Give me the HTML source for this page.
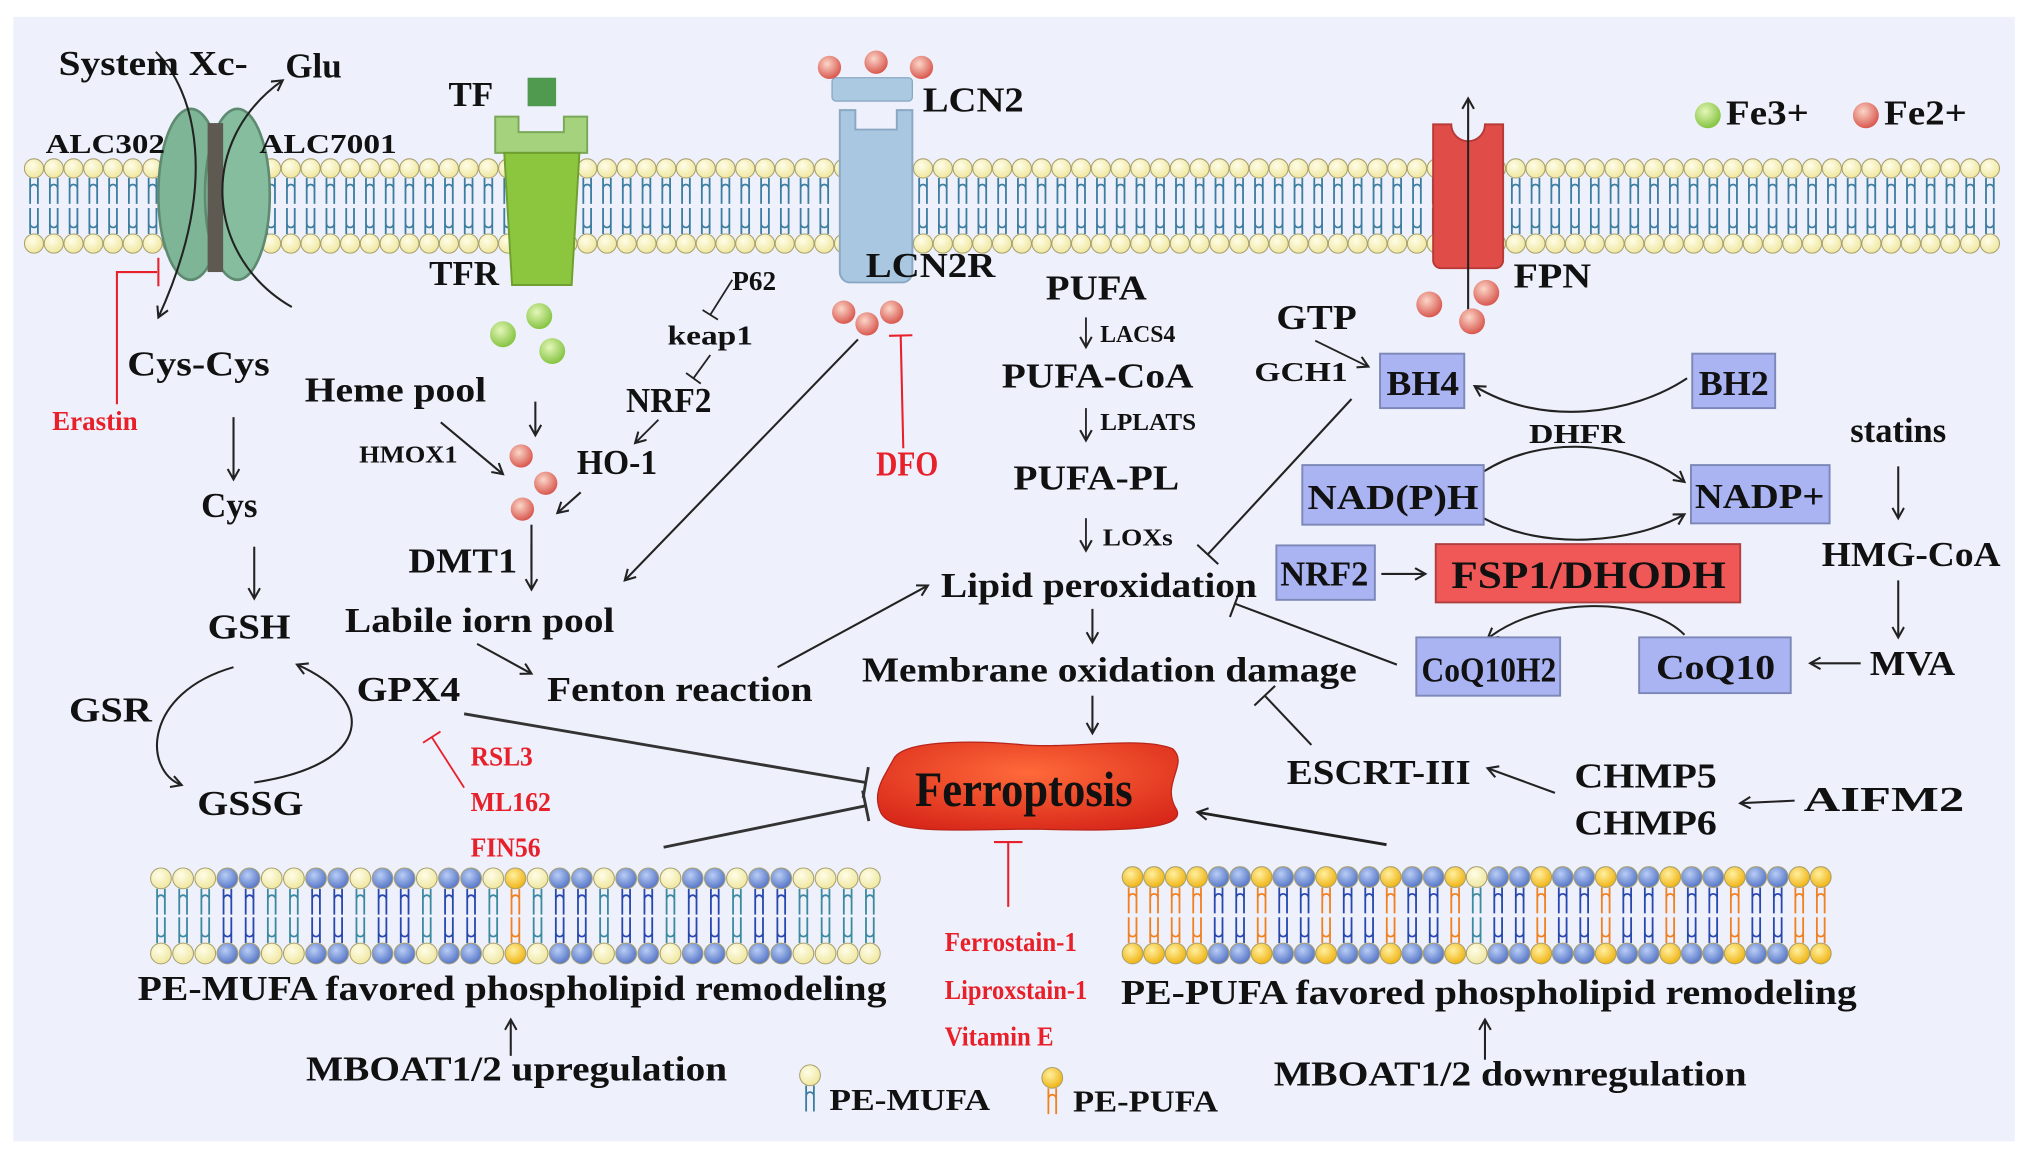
<!DOCTYPE html>
<html><head><meta charset="utf-8"><style>
html,body{margin:0;padding:0;background:#fff;overflow:hidden;width:2032px;height:1153px}
svg{display:block}
text{font-family:"Liberation Serif",serif;font-weight:bold;fill:#111}
.s{font-size:21px}.m{font-size:27px}.r{fill:#e8202a}
</style></head><body>
<svg id="sv" width="2032" height="1153" viewBox="0 0 1568 890" xmlns="http://www.w3.org/2000/svg">
<defs>
<marker id="ah" markerWidth="12" markerHeight="12" refX="9" refY="5" orient="auto" markerUnits="userSpaceOnUse"><path d="M1,0.5 L9,5 L1,9.5" fill="none" stroke="#222" stroke-width="1.6"/></marker>
<radialGradient id="rb" cx="40%" cy="35%" r="65%"><stop offset="0" stop-color="#fbd6c8"/><stop offset="1" stop-color="#d9584f"/></radialGradient>
<radialGradient id="gb" cx="40%" cy="35%" r="65%"><stop offset="0" stop-color="#e4f6b8"/><stop offset="1" stop-color="#86c443"/></radialGradient>
<radialGradient id="yb" cx="40%" cy="35%" r="65%"><stop offset="0" stop-color="#fffde8"/><stop offset="1" stop-color="#efe7a0"/></radialGradient>
<radialGradient id="bb" cx="40%" cy="35%" r="65%"><stop offset="0" stop-color="#b9cdf5"/><stop offset="1" stop-color="#5676c8"/></radialGradient>
<radialGradient id="ob" cx="40%" cy="35%" r="65%"><stop offset="0" stop-color="#fff0a0"/><stop offset="1" stop-color="#f0b414"/></radialGradient>
<radialGradient id="fer" cx="50%" cy="35%" r="70%"><stop offset="0" stop-color="#ff6a3a"/><stop offset="1" stop-color="#d8281a"/></radialGradient>
</defs>
<rect x="0" y="0" width="1568" height="890" fill="#fff"/>
<rect x="10" y="13" width="1545" height="868" fill="#eef1fb"/>
<g id="mem"></g>
<g id="lines" stroke="#222" stroke-width="1.6" fill="none"></g>

<ellipse cx="147" cy="150" rx="25" ry="66" fill="#7fb597" stroke="#5d8a70" stroke-width="2"/>
<ellipse cx="183" cy="150" rx="25" ry="66" fill="#86bd9f" stroke="#5d8a70" stroke-width="2"/>
<rect x="160" y="95" width="12" height="115" fill="#5e5a52"/>
<path d="M120,40 C150,70 170,140 122,245" fill="none" stroke="#222" stroke-width="1.6" marker-end="url(#ah)"/>
<path d="M225,237 C160,200 150,110 218,62" fill="none" stroke="#222" stroke-width="1.6" marker-end="url(#ah)"/>
<rect x="407" y="60" width="22" height="22" fill="#4f9a4f"/>
<path d="M382,90 h18 v12 h35 v-12 h18 v28 h-71 z" fill="#a5d27c" stroke="#7aa858" stroke-width="1.5"/>
<path d="M389,118 h58 l-6,102 h-46 z" fill="#8cc63e" stroke="#6f9f30" stroke-width="1.5"/>
<rect x="642" y="60" width="62" height="18" rx="3" fill="#acc9e2" stroke="#8aa8c4"/>
<path d="M648,85 h12 v15 h32 v-15 h12 v125 a8,8 0 0 1 -8,8 h-40 a8,8 0 0 1 -8,-8 z" fill="#a9c7e0" stroke="#8aa8c4" stroke-width="1.5"/>
<path d="M1106,96 h14 a12,12 0 0 0 26,0 h14 v105 a6,6 0 0 1 -6,6 h-42 a6,6 0 0 1 -6,-6 z" fill="#e04d48" stroke="#b83a36" stroke-width="1.5"/>
<line x1="1133" y1="252" x2="1133" y2="76" stroke="#222" stroke-width="1.6" marker-end="url(#ah)"/>

<g id="balls"></g>

<path d="M690,585 C700,570 760,572 790,575 C830,578 880,568 905,578 C918,590 895,605 908,625 C915,640 870,642 800,640 C740,640 690,645 680,628 C672,612 682,600 690,585 z" fill="url(#fer)" stroke="#b8241a" stroke-width="1"/>
<text x="706" y="622" style="font-size:38px" textLength="168" lengthAdjust="spacingAndGlyphs">Ferroptosis</text>

<g fill="#aab4f2" stroke="#7d88b8" stroke-width="1.5">
<rect x="1065" y="273" width="65" height="42"/>
<rect x="1306" y="273" width="64" height="42"/>
<rect x="1005" y="359" width="140" height="46"/>
<rect x="1305" y="359" width="107" height="45"/>
<rect x="985" y="421" width="76" height="42"/>
<rect x="1093" y="492" width="111" height="45"/>
<rect x="1265" y="492" width="117" height="43"/>
</g>
<rect x="1108" y="420" width="235" height="45" fill="#f05858" stroke="#b04040" stroke-width="1.5"/>

<text class="m" x="45" y="58" textLength="146" lengthAdjust="spacingAndGlyphs">System Xc-</text>
<text class="m" x="220" y="60">Glu</text>
<text class="s" x="35" y="118" textLength="92" lengthAdjust="spacingAndGlyphs">ALC302</text>
<text class="s" x="200" y="118" textLength="106" lengthAdjust="spacingAndGlyphs">ALC7001</text>
<text class="m" x="346" y="82">TF</text>
<text class="m" x="331" y="220">TFR</text>
<text class="m" x="712" y="86" textLength="78" lengthAdjust="spacingAndGlyphs">LCN2</text>
<text class="m" x="668" y="214" textLength="100" lengthAdjust="spacingAndGlyphs">LCN2R</text>
<text class="m" x="1168" y="222" textLength="60" lengthAdjust="spacingAndGlyphs">FPN</text>
<text class="s" x="565" y="224">P62</text>
<text class="s" x="515" y="266" textLength="66" lengthAdjust="spacingAndGlyphs">keap1</text>
<text class="m" x="483" y="318" textLength="66" lengthAdjust="spacingAndGlyphs">NRF2</text>
<text class="m" x="445" y="366" textLength="62" lengthAdjust="spacingAndGlyphs">HO-1</text>
<text class="s" x="277" y="357" style="font-size:19px" textLength="76" lengthAdjust="spacingAndGlyphs">HMOX1</text>
<text class="m" x="235" y="310" textLength="140" lengthAdjust="spacingAndGlyphs">Heme pool</text>
<text class="m" x="315" y="442" textLength="84" lengthAdjust="spacingAndGlyphs">DMT1</text>
<text class="m" x="266" y="488" textLength="208" lengthAdjust="spacingAndGlyphs">Labile iorn pool</text>
<text class="m" x="422" y="541" textLength="205" lengthAdjust="spacingAndGlyphs">Fenton reaction</text>
<text class="m" x="98" y="290" textLength="110" lengthAdjust="spacingAndGlyphs">Cys-Cys</text>
<text class="s r" x="40" y="332" textLength="66" lengthAdjust="spacingAndGlyphs">Erastin</text>
<text class="m" x="155" y="399">Cys</text>
<text class="m" x="160" y="493" textLength="64" lengthAdjust="spacingAndGlyphs">GSH</text>
<text class="m" x="53" y="557" textLength="64" lengthAdjust="spacingAndGlyphs">GSR</text>
<text class="m" x="275" y="541" textLength="80" lengthAdjust="spacingAndGlyphs">GPX4</text>
<text class="m" x="152" y="629" textLength="82" lengthAdjust="spacingAndGlyphs">GSSG</text>
<text class="s r" x="363" y="591" textLength="48" lengthAdjust="spacingAndGlyphs">RSL3</text>
<text class="s r" x="363" y="626" textLength="62" lengthAdjust="spacingAndGlyphs">ML162</text>
<text class="s r" x="363" y="661" textLength="54" lengthAdjust="spacingAndGlyphs">FIN56</text>
<text class="m r" x="676" y="367" textLength="48" lengthAdjust="spacingAndGlyphs">DFO</text>
<text class="m" x="807" y="231" textLength="78" lengthAdjust="spacingAndGlyphs">PUFA</text>
<text class="s" x="849" y="264" style="font-size:19px" textLength="58" lengthAdjust="spacingAndGlyphs">LACS4</text>
<text class="m" x="773" y="299" textLength="148" lengthAdjust="spacingAndGlyphs">PUFA-CoA</text>
<text class="s" x="849" y="332" style="font-size:19px" textLength="74" lengthAdjust="spacingAndGlyphs">LPLATS</text>
<text class="m" x="782" y="378" textLength="128" lengthAdjust="spacingAndGlyphs">PUFA-PL</text>
<text class="s" x="851" y="421" style="font-size:19px" textLength="54" lengthAdjust="spacingAndGlyphs">LOXs</text>
<text class="m" x="726" y="461" textLength="244" lengthAdjust="spacingAndGlyphs">Lipid peroxidation</text>
<text class="m" x="665" y="526" textLength="382" lengthAdjust="spacingAndGlyphs">Membrane oxidation damage</text>
<text class="m" x="985" y="254" textLength="62" lengthAdjust="spacingAndGlyphs">GTP</text>
<text class="s" x="968" y="294" textLength="72" lengthAdjust="spacingAndGlyphs">GCH1</text>
<text class="m" x="1070" y="305" textLength="56" lengthAdjust="spacingAndGlyphs">BH4</text>
<text class="m" x="1311" y="305" textLength="54" lengthAdjust="spacingAndGlyphs">BH2</text>
<text class="s" x="1180" y="342" textLength="74" lengthAdjust="spacingAndGlyphs">DHFR</text>
<text class="m" x="1009" y="393" textLength="132" lengthAdjust="spacingAndGlyphs">NAD(P)H</text>
<text class="m" x="1308" y="392" textLength="100" lengthAdjust="spacingAndGlyphs">NADP+</text>
<text class="m" x="1428" y="341" textLength="74" lengthAdjust="spacingAndGlyphs">statins</text>
<text class="m" x="1406" y="437" textLength="138" lengthAdjust="spacingAndGlyphs">HMG-CoA</text>
<text class="m" x="1443" y="521" textLength="66" lengthAdjust="spacingAndGlyphs">MVA</text>
<text class="m" x="988" y="452" textLength="68" lengthAdjust="spacingAndGlyphs">NRF2</text>
<text class="m" x="1120" y="454" style="font-size:30px" textLength="212" lengthAdjust="spacingAndGlyphs">FSP1/DHODH</text>
<text class="m" x="1097" y="526" textLength="104" lengthAdjust="spacingAndGlyphs">CoQ10H2</text>
<text class="m" x="1278" y="524" textLength="92" lengthAdjust="spacingAndGlyphs">CoQ10</text>
<text class="m" x="993" y="605" textLength="142" lengthAdjust="spacingAndGlyphs">ESCRT-III</text>
<text class="m" x="1215" y="608" textLength="110" lengthAdjust="spacingAndGlyphs">CHMP5</text>
<text class="m" x="1215" y="644" textLength="110" lengthAdjust="spacingAndGlyphs">CHMP6</text>
<text class="m" x="1392" y="626" textLength="124" lengthAdjust="spacingAndGlyphs">AIFM2</text>
<text class="m" x="106" y="772" textLength="578" lengthAdjust="spacingAndGlyphs">PE-MUFA favored phospholipid remodeling</text>
<text class="m" x="865" y="775" textLength="568" lengthAdjust="spacingAndGlyphs">PE-PUFA favored phospholipid remodeling</text>
<text class="m" x="236" y="834" textLength="325" lengthAdjust="spacingAndGlyphs">MBOAT1/2 upregulation</text>
<text class="m" x="983" y="838" textLength="365" lengthAdjust="spacingAndGlyphs">MBOAT1/2 downregulation</text>
<text class="s r" x="729" y="734" textLength="102" lengthAdjust="spacingAndGlyphs">Ferrostain-1</text>
<text class="s r" x="729" y="771" textLength="110" lengthAdjust="spacingAndGlyphs">Liproxstain-1</text>
<text class="s r" x="729" y="807" textLength="84" lengthAdjust="spacingAndGlyphs">Vitamin E</text>
<text class="s" x="640" y="857" style="font-size:24px" textLength="124" lengthAdjust="spacingAndGlyphs">PE-MUFA</text>
<text class="s" x="828" y="858" style="font-size:24px" textLength="112" lengthAdjust="spacingAndGlyphs">PE-PUFA</text>
<text class="m" x="1332" y="96" textLength="64" lengthAdjust="spacingAndGlyphs">Fe3+</text>
<text class="m" x="1454" y="96" textLength="64" lengthAdjust="spacingAndGlyphs">Fe2+</text>
</svg>
<script>
var NS="http://www.w3.org/2000/svg";
function el(p,t,a){var e=document.createElementNS(NS,t);for(var k in a)e.setAttribute(k,a[k]);p.appendChild(e);return e;}
var mem=document.getElementById('mem'),L=document.getElementById('lines'),B=document.getElementById('balls');
function lipid(x,yt,yb,r,fillT,fillB,tc){
  el(mem,'path',{d:'M'+(x-3)+','+(yt+r)+' v8 a3,3 0 0 1 6,0 v-8 M'+(x-3)+','+(yt+r+8)+' v12 M'+(x+3)+','+(yt+r+8)+' v12',stroke:tc,'stroke-width':1.4,fill:'none'});
  if(yb<2000){el(mem,'path',{d:'M'+(x-3)+','+(yb-r)+' v-8 a3,3 0 0 0 6,0 v8 M'+(x-3)+','+(yb-r-8)+' v-12 M'+(x+3)+','+(yb-r-8)+' v-12',stroke:tc,'stroke-width':1.4,fill:'none'});
  el(mem,'circle',{cx:x,cy:yb,r:r,fill:fillB,stroke:'#a8a070','stroke-width':0.8});}
  el(mem,'circle',{cx:x,cy:yt,r:r,fill:fillT,stroke:'#a8a070','stroke-width':0.8});
}
for(var x=26;x<1548;x+=15.25){lipid(x,130,188,7.4,'url(#yb)','url(#yb)','#3d7da0');}
var mp="yyybbyybbybbybbyOybbybbybbybbyyyy";
for(var i=0;i<mp.length;i++){var c=mp[i],f=c=='y'?'url(#yb)':c=='b'?'url(#bb)':'url(#ob)',t=c=='y'?'#3d8aa0':c=='b'?'#2848b0':'#f08020';lipid(124+i*17.1,678,736,8,f,f,t);}
var pp="oooobbobbobbobbowbbobbobbobbobboo";
for(var i=0;i<pp.length;i++){var c=pp[i],f=c=='w'?'url(#yb)':c=='b'?'url(#bb)':'url(#ob)',t=c=='w'?'#3d8aa0':c=='b'?'#2848b0':'#f08020';lipid(874+i*16.6,677,736,8,f,f,t);}
lipid(625,830,9999,8,'url(#yb)','none','#3d7da0');
lipid(812,832,9999,8,'url(#ob)','none','#f08020');
function ball(x,y,r,g){el(B,'circle',{cx:x,cy:y,r:r,fill:g,stroke:'none'});}
[[640,52],[676,48],[711,52]].forEach(function(p){ball(p[0],p[1],9,'url(#rb)');});
[[388,258],[416,244],[426,271]].forEach(function(p){ball(p[0],p[1],10,'url(#gb)');});
[[402,352],[421,373],[403,393]].forEach(function(p){ball(p[0],p[1],9,'url(#rb)');});
[[651,241],[669,250],[688,241]].forEach(function(p){ball(p[0],p[1],9,'url(#rb)');});
[[1103,235],[1147,226],[1136,248]].forEach(function(p){ball(p[0],p[1],10,'url(#rb)');});
ball(1318,89,10,'url(#gb)');ball(1440,89,10,'url(#rb)');
function arr(d,w){el(L,'path',{d:d,'marker-end':'url(#ah)','stroke-width':w||1.6});}
function inh(x1,y1,x2,y2,col,w,bl){var g=el(L,'g',{stroke:col||'#222','stroke-width':w||1.6});
 el(g,'line',{x1:x1,y1:y1,x2:x2,y2:y2});var dx=x2-x1,dy=y2-y1,l=Math.hypot(dx,dy),nx=-dy/l*(bl||11),ny=dx/l*(bl||11);
 el(g,'line',{x1:x2+nx,y1:y2+ny,x2:x2-nx,y2:y2-ny});}
el(L,'path',{d:'M90,312 V210 H121',stroke:'#e8202a'});el(L,'line',{x1:122,y1:199,x2:122,y2:221,stroke:'#e8202a'});
arr('M180,322 V370');arr('M196,422 V462');
arr('M413,310 V336');arr('M340,326 L388,366');arr('M448,380 L430,396');
el(L,'line',{x1:410,y1:405,x2:410,y2:440});arr('M410,420 V455');
inh(565,216,548,243,'#222',1.4,7);inh(548,274,535,292,'#222',1.4,7);arr('M508,324 L490,342',1.4);
arr('M662,262 L482,448');inh(697,346,695,259,'#e8202a',1.6,9);
arr('M368,497 L410,520');arr('M600,515 L716,452');
arr('M838,245 V268',1.4);arr('M838,315 V340',1.4);arr('M838,400 V425',1.4);
arr('M843,470 V496');arr('M843,537 V566');
inh(1043,308,932,428);arr('M1015,263 L1056,283',1.4);
arr('M1302,292 C1260,320 1190,330 1138,298');
arr('M1145,364 C1190,335 1260,340 1300,372');arr('M1145,400 C1190,425 1260,420 1300,397');
arr('M1066,443 H1100');arr('M1300,490 C1270,460 1190,460 1148,493');
inh(1078,513,953,466);
arr('M1465,360 V400');arr('M1465,448 V492');arr('M1436,512 H1397');
inh(1012,575,976,537);arr('M1200,612 L1148,593');arr('M1385,618 L1343,620');
arr('M1070,652 L924,627',2.2);
inh(358,551,668,604,'#333',2.2,12);inh(512,654,668,622,'#333',2.2,12);
inh(778,700,778,650,'#e8202a',1.6,11);inh(358,608,333,569,'#e8202a',1.4,8);
arr('M394,815 V787');arr('M1146,818 V787');
arr('M180,515 C110,535 110,595 140,606');arr('M196,604 C290,590 290,540 229,513');
</script>
</body></html>
